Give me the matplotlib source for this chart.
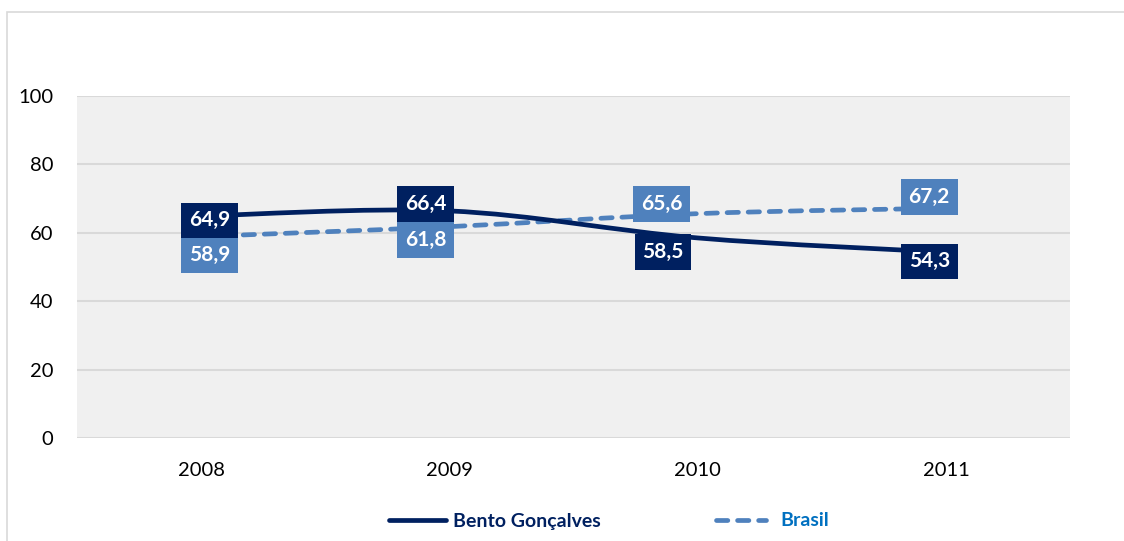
import matplotlib
matplotlib.use("Agg")
import matplotlib.pyplot as plt
from matplotlib.path import Path
from matplotlib.patches import PathPatch, Rectangle
from matplotlib.lines import Line2D

years = ["2008", "2009", "2010", "2011"]
bento = [64.9, 66.4, 58.5, 54.3]
brasil = [58.9, 61.8, 65.6, 67.2]
yticks = [0, 20, 40, 60, 80, 100]

# label offsets in points (style): (dx, dy)
bento_off = [(6, -3), (-17, 5), (-25, -10), (-12, -6.5)]
brasil_off = [(6, -13.2), (-17, -9.6), (-26, 6.9), (-12, 7.9)]

NAVY = "#002060"
LIGHT = "#4F81BD"
FONT = "Lato"
DASH = (0, (2.4, 2.06))

fig = plt.figure(figsize=(11.24, 5.41), dpi=100)
fig.patches.append(Rectangle((7/1124, -0.1), 1.2, (541-12)/541 + 0.1, transform=fig.transFigure,
                             fill=False, edgecolor="#D9D9D9", linewidth=1.2))
ax = fig.add_axes([77/1124, (541-438)/541, (1070-77)/1124, (438-96)/541])
ax.set_facecolor("#F0F0F0")
x = list(range(len(years)))
ax.set_xlim(-0.5, len(years) - 0.5)
ax.set_ylim(0, 100)
ax.set_yticks(yticks)
ax.set_yticklabels([str(v) for v in yticks], fontsize=14.5, family=FONT, color="#000000")
ax.set_xticks(x)
ax.set_xticklabels(years, fontsize=14.5, family=FONT, color="#000000")
ax.tick_params(length=0)
ax.tick_params(axis="y", pad=17)
ax.tick_params(axis="x", pad=17)
ax.grid(axis="y", color="#D9D9D9", linewidth=1.5)
ax.set_axisbelow(True)
for s in ax.spines.values():
    s.set_visible(False)


def smooth_path(xs, ys):
    pts = list(zip(xs, ys))
    verts = [pts[0]]
    codes = [Path.MOVETO]
    n = len(pts)
    for i in range(n - 1):
        p0 = pts[i - 1] if i > 0 else pts[i]
        p1 = pts[i]
        p2 = pts[i + 1]
        p3 = pts[i + 2] if i + 2 < n else pts[i + 1]
        c1 = (p1[0] + (p2[0] - p0[0]) / 6, p1[1] + (p2[1] - p0[1]) / 6)
        c2 = (p2[0] - (p3[0] - p1[0]) / 6, p2[1] - (p3[1] - p1[1]) / 6)
        verts += [c1, c2, p2]
        codes += [Path.CURVE4] * 3
    return Path(verts, codes)


ax.add_patch(PathPatch(smooth_path(x, brasil), fill=False, edgecolor=LIGHT, linewidth=3.4,
                       linestyle=DASH, capstyle="round", zorder=3))
ax.add_patch(PathPatch(smooth_path(x, bento), fill=False, edgecolor=NAVY, linewidth=3.4,
                       capstyle="round", zorder=4))


def label(xi, v, off, color, z):
    ax.annotate(f"{v:.1f}".replace(".", ","), (xi, v), xytext=off, textcoords="offset points",
                ha="center", va="center", fontsize=15, fontweight="bold", family=FONT,
                color="white", zorder=z,
                bbox=dict(boxstyle="square,pad=0.37", facecolor=color, edgecolor="none"))


for xi, v, o in zip(x, brasil, brasil_off):
    label(xi, v, o, LIGHT, 5)
for xi, v, o in zip(x, bento, bento_off):
    label(xi, v, o, NAVY, 6)

# legend
fig.add_artist(Line2D([389/1124, 446/1124], [1 - 520/541] * 2, transform=fig.transFigure,
                      color=NAVY, linewidth=3.4, solid_capstyle="round"))
fig.text(453/1124, 1 - 521/541, "Bento Gonçalves", color=NAVY, fontsize=14, fontweight="bold",
         family=FONT, va="center", ha="left")
fig.add_artist(Line2D([716/1124, 766/1124], [1 - 520/541] * 2, transform=fig.transFigure,
                      color=LIGHT, linewidth=3.4, linestyle=DASH, dash_capstyle="round"))
fig.text(780/1124, 1 - 521/541, "Brasil", color="#0070C0", fontsize=14, fontweight="bold",
         family=FONT, va="center", ha="left")

fig.savefig("out.png", dpi=100)
